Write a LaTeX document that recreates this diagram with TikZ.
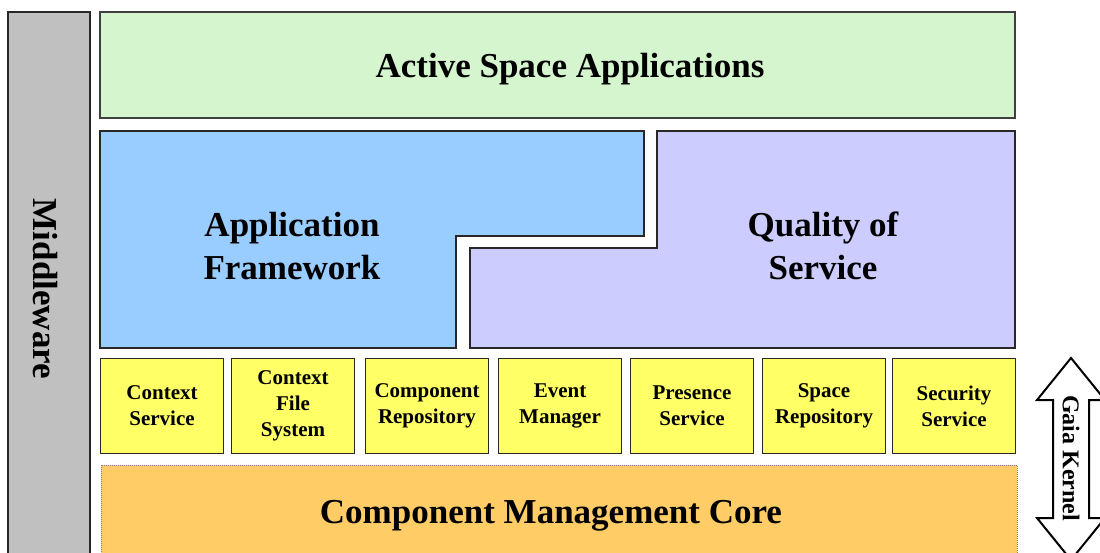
\documentclass[tikz,border=0pt]{standalone}
\usepackage{fontspec}
\setmainfont{Liberation Serif}
\definecolor{appgreen}{RGB}{212,245,206}
\definecolor{fwblue}{RGB}{153,204,255}
\definecolor{qospurple}{RGB}{204,204,255}
\definecolor{svcyellow}{RGB}{255,255,102}
\definecolor{coreorange}{RGB}{255,204,102}
\definecolor{midgray}{RGB}{192,192,192}
\definecolor{edge}{RGB}{40,40,40}
\tikzset{
  blk/.style={draw=edge, line width=1.3},
  biglabel/.style={font=\fontsize{35}{43}\selectfont\bfseries, align=center, inner sep=0},
  svc/.style={blk, fill=svcyellow, minimum width=123, minimum height=95, inner sep=0,
    font=\fontsize{21}{26}\selectfont\bfseries, align=center},
}
\begin{document}
\begin{tikzpicture}[x=1pt, y=-1pt]
\clip (0,0) rectangle (1100,553);
\fill[white] (0,0) rectangle (1100,553);
% Middleware bar
\draw[blk, fill=midgray] (8,12) rectangle (90,570);
\node[biglabel, rotate=-90] (mw) at (45,289) {Middleware};
% Active Space Applications
\draw[blk, draw=black!75, fill=appgreen] (100,12) rectangle (1015,118);
\node[biglabel] (asa) at (570,69) {Active Space Applications};
% Application Framework (L-shape)
\draw[blk, fill=fwblue] (100,131) -- (644,131) -- (644,236) -- (456,236) -- (456,348) -- (100,348) -- cycle;
\node[biglabel] (af) at (292,246) {Application\\Framework};
% Quality of Service (L-shape)
\draw[blk, fill=qospurple] (657,131) -- (1015,131) -- (1015,348) -- (470,348) -- (470,248) -- (657,248) -- cycle;
\node[biglabel] (qos) at (823,246) {Quality of\\Service};
% Services
\node[svc] (s1) at (162,406) {Context\\Service};
\node[svc] (s2) at (293,406) {Context\\File\\System};
\node[svc] (s3) at (427,406) {Component\\Repository};
\node[svc] (s4) at (560,406) {Event\\Manager};
\node[svc] (s5) at (692,406) {Presence\\Service};
\node[svc] (s6) at (824,406) {Space\\Repository};
\node[svc] (s7) at (954,406) {Security\\Service};
% Component Management Core
\draw[draw=gray, densely dotted, line width=1, fill=coreorange] (101,465) rectangle (1017,570);
\node[biglabel] (cmc) at (551,516) {Component Management Core};
% Gaia Kernel double arrow
\draw[draw=black, line width=2, fill=white, line join=miter]
  (1071,358) -- (1105,400) -- (1089,400) -- (1089,518) -- (1105,518) -- (1071,560)
  -- (1037,518) -- (1053,518) -- (1053,400) -- (1037,400) -- cycle;
\node[font=\fontsize{24}{28}\selectfont\bfseries, rotate=-90, inner sep=0] (gk) at (1071,458) {Gaia Kernel};
\end{tikzpicture}
\end{document}
